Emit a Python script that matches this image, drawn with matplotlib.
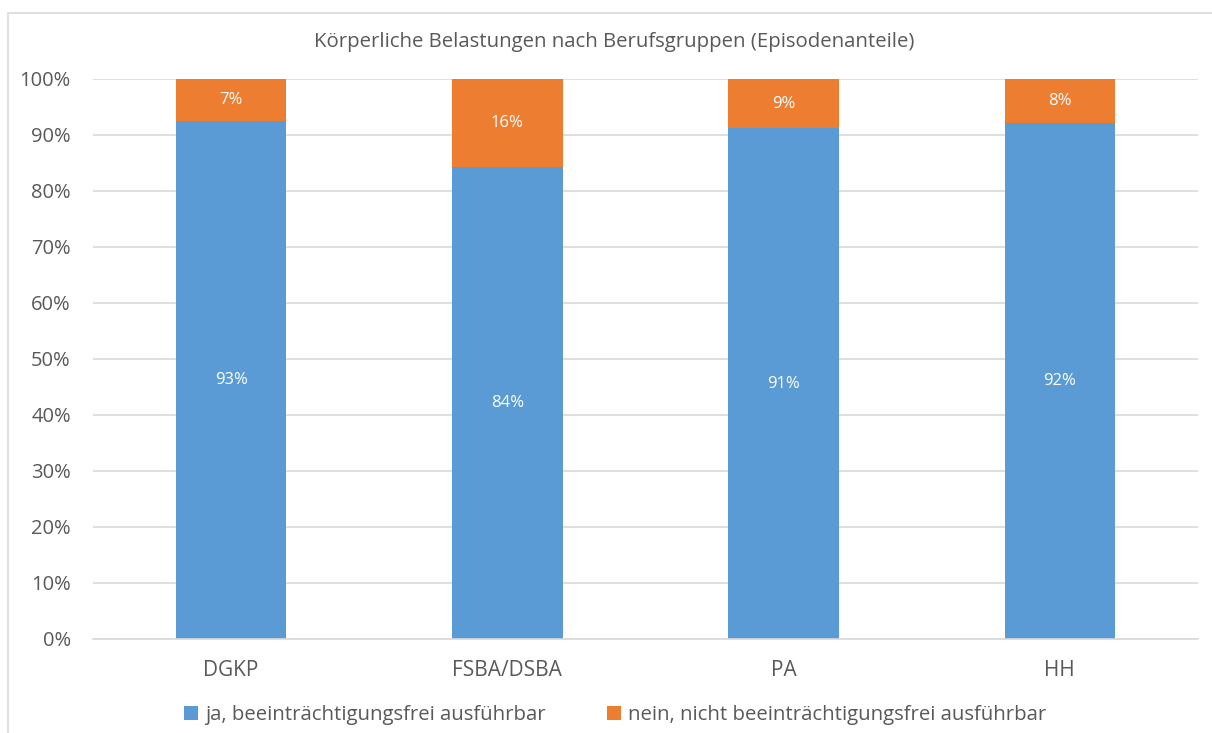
import matplotlib.pyplot as plt
import numpy as np
from matplotlib.patches import Rectangle

# data
groups = ["DGKP", "FSBA/DSBA", "PA", "HH"]
ja = np.array([92.5, 84.3, 91.2, 92.1])
nein = np.array([7.5, 15.7, 8.8, 7.9])
ja_labels = ["93%", "84%", "91%", "92%"]
nein_labels = ["7%", "16%", "9%", "8%"]
series_names = ["ja, beeinträchtigungsfrei ausführbar",
                "nein, nicht beeinträchtigungsfrei ausführbar"]

blue = "#5b9bd5"
orange = "#ed7d31"
grid_c = "#d9d9d9"
text_c = "#595959"

plt.rcParams['font.family'] = ['Open Sans', 'DejaVu Sans']

W, H = 1212, 733
fig = plt.figure(figsize=(W / 100, H / 100), dpi=100)
ax = fig.add_axes([93 / W, 1 - 639 / H, (1198 - 93) / W, (639 - 79) / H])

# chart border (left and top visible, rest cut off)
fig.patches.append(Rectangle((7.5 / W, -0.1), 1.2, 1 - 12.5 / H + 0.1,
                             transform=fig.transFigure, fill=False,
                             edgecolor=grid_c, linewidth=1.2, zorder=0))

x = np.arange(len(groups))
b1 = ax.bar(x, ja, width=0.4, color=blue, zorder=2)
b2 = ax.bar(x, nein, width=0.4, bottom=ja, color=orange, zorder=2)

for i in range(len(groups)):
    ax.text(x[i], ja[i] / 2, ja_labels[i], ha='center', va='center',
            color='white', fontsize=12)
    ax.text(x[i], ja[i] + nein[i] / 2, nein_labels[i], ha='center', va='center',
            color='white', fontsize=12)

ax.set_xlim(-0.5, len(groups) - 0.5)
ax.set_ylim(0, 100)
ax.set_yticks(np.arange(0, 101, 10))
ax.set_yticklabels([f"{v}%" for v in range(0, 101, 10)])
ax.set_xticks(x)
ax.set_xticklabels(groups)
ax.tick_params(length=0, labelcolor=text_c)
ax.tick_params(axis='x', pad=15, labelsize=15)
ax.tick_params(axis='y', pad=16, labelsize=14.5)
ax.grid(axis='y', color=grid_c, linewidth=1.2, zorder=0)
ax.set_axisbelow(True)
for s in ['top', 'right', 'left']:
    ax.spines[s].set_visible(False)
ax.spines['bottom'].set_color(grid_c)
ax.spines['bottom'].set_linewidth(1.2)

fig.text(614 / W, 1 - 42 / H, "Körperliche Belastungen nach Berufsgruppen (Episodenanteile)",
         ha='center', va='center', fontsize=14.7, color=text_c)

fig.legend([b1, b2], series_names, loc='center', bbox_to_anchor=(615 / W, 1 - 715 / H),
           ncol=2, frameon=False, fontsize=14.7, labelcolor=text_c,
           handlelength=0.68, handleheight=0.68, handletextpad=0.35, columnspacing=3.0)

fig.savefig("out.png", dpi=100)
